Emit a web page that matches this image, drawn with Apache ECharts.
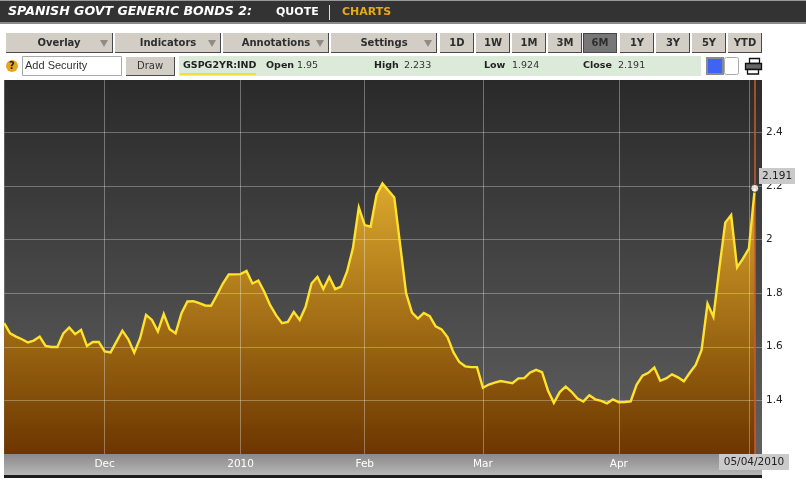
<!DOCTYPE html>
<html>
<head>
<meta charset="utf-8">
<style>html,body{margin:0;padding:0;background:#fff}#c{width:806px;height:481px}</style>
<script src="https://cdn.jsdelivr.net/npm/echarts@6/dist/echarts.min.js"></script>
</head>
<body>
<div id="c"></div>
<script>
const values = [
1.688,1.650,1.638,1.628,1.616,1.623,1.638,1.603,1.599,1.599,
1.650,1.672,1.647,1.663,1.603,1.618,1.618,1.583,1.579,1.619,
1.660,1.628,1.578,1.632,1.719,1.700,1.657,1.722,1.665,1.650,
1.725,1.769,1.770,1.763,1.754,1.753,1.793,1.836,1.870,1.870,
1.871,1.883,1.836,1.847,1.805,1.755,1.718,1.688,1.693,1.730,
1.700,1.749,1.836,1.861,1.815,1.860,1.815,1.824,1.880,1.967,
2.120,2.054,2.048,2.166,2.209,2.183,2.157,1.980,1.800,1.727,
1.705,1.726,1.714,1.676,1.665,1.636,1.580,1.543,1.527,1.524,
1.524,1.447,1.459,1.466,1.472,1.468,1.464,1.482,1.483,1.504,
1.514,1.505,1.437,1.391,1.431,1.451,1.432,1.407,1.396,1.419,
1.404,1.398,1.389,1.404,1.393,1.394,1.396,1.458,1.492,1.503,
1.523,1.473,1.482,1.497,1.486,1.471,1.503,1.532,1.588,1.761,
1.712,1.892,2.063,2.091,1.896,1.929,1.966,2.191];
const xTickIndex = [17,40,61,81,104,126];
const xTickLabels = ['Dec','2010','Feb','Mar','Apr',''];
const yTicks = [1.4,1.6,1.8,2.0,2.2,2.4];
const rangeButtons = ['1D','1W','1M','3M','6M','1Y','3Y','5Y','YTD'];
const menuButtons = ['Overlay','Indicators','Annotations','Settings'];
const title = 'SPANISH GOVT GENERIC BONDS 2:';
const ticker = 'GSPG2YR:IND';
const quote = {Open:'1.95',High:'2.233',Low:'1.924',Close:'2.191'};
const lastDate = '05/04/2010';

const points = values.map((v,i)=>[i,v]);
const lastPoint = points[points.length-1];
const FONT = '"DejaVu Sans"';
const G = [];
const rect=(x,y,w,h,fill,z,extra)=>G.push(Object.assign({type:'rect',shape:{x,y,width:w,height:h},style:{fill},z:z||1,silent:true},extra||{}));
const text=(x,y,t,o)=>G.push({type:'text',x,y,z:o.z||5,silent:true,style:{text:t,fill:o.fill||'#333',font:(o.font||'10px')+' '+FONT,textAlign:o.align||'left',textVerticalAlign:'middle'}});
const vGrad=(a,b)=>({type:'linear',x:0,y:0,x2:0,y2:1,colorStops:[{offset:0,color:a},{offset:1,color:b}]});

// header band
rect(0,0,806,1,'#9a9a9a');
rect(0,1,806,22,'#333333');
rect(0,22,806,2,'#8a8a8a');
text(8,11.5,title,{fill:'#fff',font:'italic bold 12.6px'});
text(276,12,'QUOTE',{fill:'#fff',font:'bold 11px'});
rect(329,5,1,15,'#ddd');
text(342,12,'CHARTS',{fill:'#e8a820',font:'bold 11px'});

// button bars
function button(x,w,label,active,cx,arrow){
  rect(x,33,w,20,active?'#777':'#d2cec6',1);
  rect(x,52,w,1,'#4a4a4a',2);
  rect(x+w-1,33,1,20,'#4a4a4a',2);
  if(active){rect(x,33,1,20,'#444',2);rect(x,33,w,1,'#444',2);}
  text(cx,43.5,label,{align:'center',font:'bold 10px',fill:'#2e2e2e'});
  if(arrow) G.push({type:'polygon',z:3,silent:true,shape:{points:[[arrow,40],[arrow+8,40],[arrow+4,47]]},style:{fill:'#8f8c86'}});
}
const menuX=[6,115,223,331], menuW=[107,106,106,106], menuC=[59,168,276,384], menuA=[100,208,316,424];
menuButtons.forEach((b,i)=>button(menuX[i],menuW[i],b,false,menuC[i],menuA[i]));
const rangeX=[440,476,512,548,583,620,656,692,728];
rangeButtons.forEach((b,i)=>button(rangeX[i],34,b,b==='6M',rangeX[i]+17));

// second row
G.push({type:'circle',z:2,silent:true,shape:{cx:12,cy:66,r:6},style:{fill:'#eaa51e'}});
text(12,66,'?',{align:'center',font:'bold 10px',fill:'#222'});
G.push({type:'rect',z:2,silent:true,shape:{x:22.5,y:56.5,width:99,height:19},style:{fill:'#fff',stroke:'#aaa',lineWidth:1}});
G.push({type:'text',x:25,y:65.5,z:5,silent:true,style:{text:'Add Security',fill:'#333',font:'11px "Liberation Sans"',textVerticalAlign:'middle'}});
rect(126,57,49,19,'#d2cec6',1);
rect(126,75,49,1,'#4a4a4a',2);
rect(174,57,1,19,'#4a4a4a',2);
text(150,66.5,'Draw',{align:'center',font:'10px'});
rect(179,56,522,20,'#dcead9',1);
rect(180,73,76,2,'#f3df35',2);
text(183,65.5,ticker,{font:'bold 9.5px',fill:'#222'});
const qLabX={Open:266,High:374,Low:484,Close:583}, qValX={Open:297,High:404,Low:512,Close:618};
Object.keys(quote).forEach(k=>{
  text(qLabX[k],65.5,k,{font:'bold 9.5px',fill:'#222'});
  text(qValX[k],65.5,quote[k],{font:'9.5px',fill:'#333'});
});
// colour toggle and printer
rect(706,57,18,18,'#8a8a8a',1);
rect(708,59,14,14,'#3f63f5',2);
G.push({type:'rect',z:2,silent:true,shape:{x:724.5,y:57.5,width:14,height:17,r:2},style:{fill:'#fff',stroke:'#aaa',lineWidth:1}});
G.push({type:'rect',z:2,silent:true,shape:{x:749.5,y:58.5,width:10,height:5},style:{fill:'#fff',stroke:'#111',lineWidth:1.3}});
G.push({type:'rect',z:2,silent:true,shape:{x:745.5,y:63.5,width:16,height:6},style:{fill:'#666',stroke:'#111',lineWidth:1.3}});
G.push({type:'rect',z:2,silent:true,shape:{x:747.5,y:69.5,width:11,height:4.5},style:{fill:'#fff',stroke:'#111',lineWidth:1.3}});

// axis strip, bottom band
rect(4,454,758,21,vGrad('#8a8a8a','#b6b6b6'),0);
rect(4,475,758,3,'#1c1c1c',0);
// value tags
rect(759,168,36,16,'#cacaca',50);
text(762,176.5,String(lastPoint[1]),{fill:'#222',font:'10.5px',z:51});
rect(719,454,70,16,'#cacaca',50);
text(754,462.5,lastDate,{fill:'#222',font:'10.5px',align:'center',z:51});

const chart = echarts.init(document.getElementById('c'),null,{renderer:'canvas'});
chart.setOption({
  animation:false,
  backgroundColor:'#fff',
  graphic:{elements:G},
  grid:{show:true,left:4.2,top:80,width:757.8,height:374,borderWidth:0,
        backgroundColor:vGrad('#2a2a2a','#606060'),containLabel:false},
  xAxis:{type:'value',min:0,max:128.22,z:3,
    axisLine:{show:false},
    axisTick:{show:false,customValues:xTickIndex},
    splitLine:{show:true,lineStyle:{color:'rgba(255,255,255,0.33)',width:1}},
    axisLabel:{customValues:xTickIndex,color:'#fff',fontFamily:'DejaVu Sans',fontSize:10.5,margin:5,
      hideOverlap:false,showMinLabel:true,showMaxLabel:true,
      formatter:v=>xTickLabels[xTickIndex.indexOf(v)]}},
  yAxis:{type:'value',position:'right',min:1.2,max:2.595,z:3,
    axisLine:{show:false},
    axisTick:{show:false,customValues:yTicks},
    splitLine:{show:true,lineStyle:{color:'rgba(255,255,255,0.3)',width:1}},
    axisLabel:{customValues:yTicks,color:'#222',fontFamily:'DejaVu Sans',fontSize:10.5,margin:4,
      showMinLabel:true,showMaxLabel:true}},
  series:[
    {type:'line',name:'area',z:1,data:points,showSymbol:false,silent:true,
      lineStyle:{width:0},
      areaStyle:{opacity:1,color:vGrad('#dca82c','#6c3600')}},
    {type:'line',name:'line',z:5,data:points,showSymbol:false,silent:true,
      lineStyle:{color:'#ffe22e',width:2.4,join:'miter'},
      markLine:{silent:true,symbol:'none',label:{show:false},animation:false,
        lineStyle:{color:'#cf5a2a',width:1.5,type:'solid'},data:[{xAxis:lastPoint[0]}]}},
    {type:'scatter',name:'last',z:6,data:[lastPoint],symbol:'circle',symbolSize:8,silent:true,
      itemStyle:{color:'#fff',borderColor:'#222',borderWidth:1}}
  ]
});
</script>
</body>
</html>
